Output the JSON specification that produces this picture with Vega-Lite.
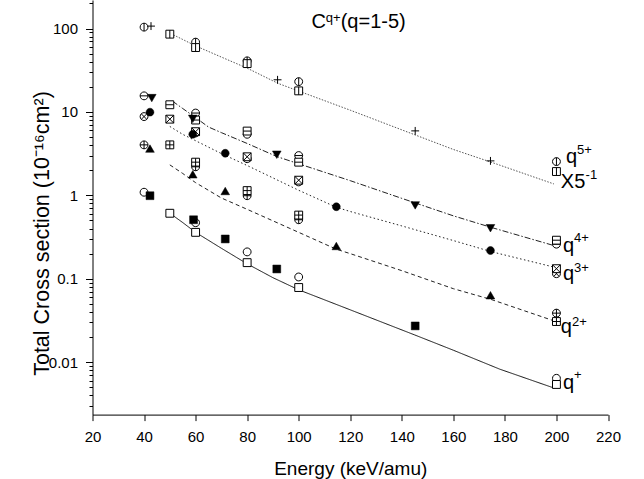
{
  "$schema": "https://vega.github.io/schema/vega-lite/v6.json",
  "width": 515.5,
  "height": 414.6,
  "autosize": {"type": "none"},
  "padding": {"left": 92.5, "top": 0, "right": 36, "bottom": 64.4},
  "background": "white",
  "config": {
    "view": {"stroke": null},
    "font": "Liberation Sans",
    "axis": {"domainColor": "black", "tickColor": "black", "labelColor": "black", "titleColor": "black", "labelFont": "Liberation Sans", "titleFont": "Liberation Sans", "titleFontWeight": "normal", "grid": false, "domainWidth": 1, "tickWidth": 1, "labelOverlap": false, "labelFlush": false}
  },
  "datasets": {
    "lines": [
      {"q": "q5", "E": 51.4, "v": 84}, {"q": "q5", "E": 55, "v": 74}, {"q": "q5", "E": 60, "v": 62}, {"q": "q5", "E": 70, "v": 45.5}, {"q": "q5", "E": 80, "v": 33.5}, {"q": "q5", "E": 92, "v": 22}, {"q": "q5", "E": 100, "v": 17.8}, {"q": "q5", "E": 120, "v": 10.5}, {"q": "q5", "E": 140, "v": 6.1}, {"q": "q5", "E": 160, "v": 3.55}, {"q": "q5", "E": 175, "v": 2.48}, {"q": "q5", "E": 199, "v": 1.37},
      {"q": "q4", "E": 51, "v": 13.5}, {"q": "q4", "E": 55, "v": 11.0}, {"q": "q4", "E": 60, "v": 8.55}, {"q": "q4", "E": 65, "v": 6.6}, {"q": "q4", "E": 70, "v": 5.65}, {"q": "q4", "E": 80, "v": 4.19}, {"q": "q4", "E": 91.5, "v": 2.92}, {"q": "q4", "E": 100, "v": 2.39}, {"q": "q4", "E": 120, "v": 1.5}, {"q": "q4", "E": 140, "v": 0.92}, {"q": "q4", "E": 160, "v": 0.568}, {"q": "q4", "E": 175, "v": 0.41}, {"q": "q4", "E": 199, "v": 0.25},
      {"q": "q3", "E": 50, "v": 6.7}, {"q": "q3", "E": 55, "v": 5.39}, {"q": "q3", "E": 60, "v": 4.52}, {"q": "q3", "E": 70, "v": 3.17}, {"q": "q3", "E": 80, "v": 2.28}, {"q": "q3", "E": 100, "v": 1.15}, {"q": "q3", "E": 114.6, "v": 0.72}, {"q": "q3", "E": 120, "v": 0.64}, {"q": "q3", "E": 140, "v": 0.43}, {"q": "q3", "E": 160, "v": 0.287}, {"q": "q3", "E": 175, "v": 0.21}, {"q": "q3", "E": 199, "v": 0.138},
      {"q": "q2", "E": 50, "v": 2.32}, {"q": "q2", "E": 55, "v": 1.83}, {"q": "q2", "E": 60, "v": 1.42}, {"q": "q2", "E": 70, "v": 0.93}, {"q": "q2", "E": 80, "v": 0.68}, {"q": "q2", "E": 100, "v": 0.36}, {"q": "q2", "E": 114.6, "v": 0.226}, {"q": "q2", "E": 120, "v": 0.2}, {"q": "q2", "E": 140, "v": 0.125}, {"q": "q2", "E": 160, "v": 0.076}, {"q": "q2", "E": 175, "v": 0.056}, {"q": "q2", "E": 199, "v": 0.0313},
      {"q": "q1", "E": 50, "v": 0.61}, {"q": "q1", "E": 55, "v": 0.472}, {"q": "q1", "E": 60, "v": 0.36}, {"q": "q1", "E": 70, "v": 0.232}, {"q": "q1", "E": 80, "v": 0.151}, {"q": "q1", "E": 90, "v": 0.103}, {"q": "q1", "E": 100, "v": 0.0737}, {"q": "q1", "E": 120, "v": 0.0424}, {"q": "q1", "E": 145, "v": 0.0212}, {"q": "q1", "E": 160, "v": 0.0139}, {"q": "q1", "E": 178, "v": 0.00824}, {"q": "q1", "E": 199, "v": 0.0049}
    ],
    "pts": [
      {"q": "q1", "m": "circle", "E": 40, "v": 1.09}, {"q": "q1", "m": "circle", "E": 60, "v": 0.47}, {"q": "q1", "m": "circle", "E": 80, "v": 0.21}, {"q": "q1", "m": "circle", "E": 100, "v": 0.105}, {"q": "q1", "m": "circle", "E": 200, "v": 0.0064},
      {"q": "q2", "m": "circlePlus", "E": 40, "v": 4.03}, {"q": "q2", "m": "circlePlus", "E": 60, "v": 2.2}, {"q": "q2", "m": "circlePlus", "E": 80, "v": 0.99}, {"q": "q2", "m": "circlePlus", "E": 100, "v": 0.51}, {"q": "q2", "m": "circlePlus", "E": 200, "v": 0.0387},
      {"q": "q3", "m": "circleX", "E": 40, "v": 8.8}, {"q": "q3", "m": "circleX", "E": 60, "v": 5.6}, {"q": "q3", "m": "circleX", "E": 80, "v": 2.75}, {"q": "q3", "m": "circleX", "E": 100, "v": 1.45}, {"q": "q3", "m": "circleX", "E": 200, "v": 0.115},
      {"q": "q4", "m": "circleMinus", "E": 40, "v": 15.6}, {"q": "q4", "m": "circleMinus", "E": 60, "v": 9.7}, {"q": "q4", "m": "circleMinus", "E": 80, "v": 5.4}, {"q": "q4", "m": "circleMinus", "E": 100, "v": 3.0}, {"q": "q4", "m": "circleMinus", "E": 200, "v": 0.26},
      {"q": "q5", "m": "circleVert", "E": 40, "v": 104}, {"q": "q5", "m": "circleVert", "E": 60, "v": 68.7}, {"q": "q5", "m": "circleVert", "E": 80, "v": 41}, {"q": "q5", "m": "circleVert", "E": 100, "v": 23.1}, {"q": "q5", "m": "circleVert", "E": 200, "v": 2.54},
      {"q": "q1", "m": "square", "E": 50, "v": 0.61}, {"q": "q1", "m": "square", "E": 60, "v": 0.36}, {"q": "q1", "m": "square", "E": 80, "v": 0.156}, {"q": "q1", "m": "square", "E": 100, "v": 0.0785}, {"q": "q1", "m": "square", "E": 200, "v": 0.0054},
      {"q": "q2", "m": "squarePlus", "E": 50, "v": 4.03}, {"q": "q2", "m": "squarePlus", "E": 60, "v": 2.5}, {"q": "q2", "m": "squarePlus", "E": 80, "v": 1.14}, {"q": "q2", "m": "squarePlus", "E": 100, "v": 0.58}, {"q": "q2", "m": "squarePlus", "E": 200, "v": 0.0307},
      {"q": "q3", "m": "squareX", "E": 50, "v": 8.2}, {"q": "q3", "m": "squareX", "E": 60, "v": 5.8}, {"q": "q3", "m": "squareX", "E": 80, "v": 2.9}, {"q": "q3", "m": "squareX", "E": 100, "v": 1.52}, {"q": "q3", "m": "squareX", "E": 200, "v": 0.132},
      {"q": "q4", "m": "squareMinus", "E": 50, "v": 12.2}, {"q": "q4", "m": "squareMinus", "E": 60, "v": 8.0}, {"q": "q4", "m": "squareMinus", "E": 80, "v": 5.9}, {"q": "q4", "m": "squareMinus", "E": 100, "v": 2.5}, {"q": "q4", "m": "squareMinus", "E": 200, "v": 0.29},
      {"q": "q5", "m": "squareVert", "E": 50, "v": 85.7}, {"q": "q5", "m": "squareVert", "E": 60, "v": 59.2}, {"q": "q5", "m": "squareVert", "E": 80, "v": 38}, {"q": "q5", "m": "squareVert", "E": 100, "v": 17.9}, {"q": "q5", "m": "squareVert", "E": 200, "v": 1.93},
      {"q": "q5", "m": "plus", "E": 42.7, "v": 107}, {"q": "q5", "m": "plus", "E": 91.8, "v": 24.3}, {"q": "q5", "m": "plus", "E": 145.2, "v": 5.93}, {"q": "q5", "m": "plus", "E": 174.4, "v": 2.59},
      {"q": "q1", "m": "fsquare", "E": 42.3, "v": 0.99}, {"q": "q1", "m": "fsquare", "E": 59.2, "v": 0.51}, {"q": "q1", "m": "fsquare", "E": 71.5, "v": 0.3}, {"q": "q1", "m": "fsquare", "E": 91.5, "v": 0.131}, {"q": "q1", "m": "fsquare", "E": 145.2, "v": 0.0272},
      {"q": "q2", "m": "ftri", "E": 42.3, "v": 3.58}, {"q": "q2", "m": "ftri", "E": 58.9, "v": 1.76}, {"q": "q2", "m": "ftri", "E": 71.5, "v": 1.11}, {"q": "q2", "m": "ftri", "E": 114.6, "v": 0.243}, {"q": "q2", "m": "ftri", "E": 174.4, "v": 0.0624},
      {"q": "q3", "m": "fcircle", "E": 42.3, "v": 9.95}, {"q": "q3", "m": "fcircle", "E": 58.9, "v": 5.4}, {"q": "q3", "m": "fcircle", "E": 71.5, "v": 3.2}, {"q": "q3", "m": "fcircle", "E": 114.6, "v": 0.73}, {"q": "q3", "m": "fcircle", "E": 174.4, "v": 0.218},
      {"q": "q4", "m": "ftridown", "E": 43, "v": 14.9}, {"q": "q4", "m": "ftridown", "E": 58.9, "v": 8.4}, {"q": "q4", "m": "ftridown", "E": 91.5, "v": 3.12}, {"q": "q4", "m": "ftridown", "E": 145.2, "v": 0.77}, {"q": "q4", "m": "ftridown", "E": 174.4, "v": 0.41}
    ],
    "labels": [
      {"k": "b", "E": 105.0, "v": 101.7, "t": "C"},
      {"k": "s", "E": 110.5, "v": 120, "t": "q+"},
      {"k": "b", "E": 116.3, "v": 101.7, "t": "(q=1-5)"},
      {"k": "b", "E": 203.7, "v": 2.45, "t": "q"},
      {"k": "s", "E": 208.0, "v": 3.1, "t": "5+"},
      {"k": "b", "E": 201.7, "v": 1.23, "t": "X5"},
      {"k": "s", "E": 211.3, "v": 1.556, "t": "-1"},
      {"k": "b", "E": 202.5, "v": 0.21, "t": "q"},
      {"k": "s", "E": 206.8, "v": 0.277, "t": "4+"},
      {"k": "b", "E": 202.5, "v": 0.097, "t": "q"},
      {"k": "s", "E": 206.8, "v": 0.119, "t": "3+"},
      {"k": "b", "E": 201.7, "v": 0.0225, "t": "q"},
      {"k": "s", "E": 206.0, "v": 0.0268, "t": "2+"},
      {"k": "b", "E": 202.5, "v": 0.00481, "t": "q"},
      {"k": "s", "E": 206.8, "v": 0.0063, "t": "+"}
    ]
  },
  "layer": [
    {
      "data": {"name": "lines"},
      "mark": {"type": "line", "strokeWidth": 1},
      "encoding": {
        "x": {"field": "E", "type": "quantitative",
          "scale": {"domain": [20, 220], "nice": false, "zero": false},
          "axis": {"title": "Energy (keV/amu)", "values": [20, 30, 40, 50, 60, 70, 80, 90, 100, 110, 120, 130, 140, 150, 160, 170, 180, 190, 200, 210, 220],
            "labelExpr": "datum.value % 20 === 0 ? datum.label : ''",
            "tickSize": {"condition": {"test": "datum.value % 20 === 0", "value": 6}, "value": 3.5},
            "labelFontSize": 15, "labelPadding": 9, "titleFontSize": 19, "titleY": 59.4, "titleBaseline": "alphabetic"}},
        "y": {"field": "v", "type": "quantitative",
          "scale": {"type": "log", "domain": [0.00235, 220], "nice": false},
          "axis": {"title": "Total Cross section (10⁻¹⁶cm²)",
            "values": [0.003, 0.004, 0.005, 0.006, 0.007, 0.008, 0.009, 0.01, 0.02, 0.03, 0.04, 0.05, 0.06, 0.07, 0.08, 0.09, 0.1, 0.2, 0.3, 0.4, 0.5, 0.6, 0.7, 0.8, 0.9, 1, 2, 3, 4, 5, 6, 7, 8, 9, 10, 20, 30, 40, 50, 60, 70, 80, 90, 100, 200],
            "labelExpr": "abs(log(datum.value)/LN10 - round(log(datum.value)/LN10)) < 0.001 ? format(datum.value, '~g') : ''",
            "tickSize": {"condition": {"test": "abs(log(datum.value)/LN10 - round(log(datum.value)/LN10)) < 0.001", "value": 7}, "value": 3.5},
            "labelFontSize": 15, "labelPadding": 8, "titleFontSize": 21.5, "titleX": -44.5, "titleY": 233, "titleAngle": 270, "titleAlign": "center", "titleBaseline": "alphabetic"}},
        "detail": {"field": "q", "type": "nominal"},
        "strokeDash": {"field": "q", "type": "nominal", "legend": null,
          "scale": {"domain": ["q1", "q2", "q3", "q4", "q5"], "range": [[1, 0], [4, 3], [1.5, 2.5], [6, 2, 1.5, 2], [1.5, 1.5]]}},
        "color": {"field": "q", "type": "nominal", "legend": null,
          "scale": {"domain": ["q1", "q2", "q3", "q4", "q5"], "range": ["#111111", "#222222", "#222222", "#222222", "#555555"]}}
      }
    },
    {
      "data": {"name": "pts"},
      "transform": [{"filter": "indexof(['fsquare','ftri','fcircle','ftridown'], datum.m) < 0"}],
      "mark": {"type": "point", "filled": true, "fill": "white", "stroke": "black", "strokeWidth": 1, "opacity": 1},
      "encoding": {
        "x": {"field": "E", "type": "quantitative"},
        "y": {"field": "v", "type": "quantitative"},
        "shape": {"field": "m", "type": "nominal", "legend": null,
          "scale": {"domain": ["circle", "circlePlus", "circleX", "circleMinus", "circleVert", "square", "squarePlus", "squareX", "squareMinus", "squareVert", "plus", "fsquare", "ftri", "fcircle", "ftridown"],
            "range": [
              "M1,0A1,1,0,1,1,-1,0A1,1,0,1,1,1,0Z",
              "M1,0A1,1,0,1,1,-1,0A1,1,0,1,1,1,0ZM-1,0L1,0M0,-1L0,1",
              "M1,0A1,1,0,1,1,-1,0A1,1,0,1,1,1,0ZM-0.7,-0.7L0.7,0.7M-0.7,0.7L0.7,-0.7",
              "M1,0A1,1,0,1,1,-1,0A1,1,0,1,1,1,0ZM-1,0L1,0",
              "M1,0A1,1,0,1,1,-1,0A1,1,0,1,1,1,0ZM0,-1L0,1",
              "M-1,-1L1,-1L1,1L-1,1Z",
              "M-1,-1L1,-1L1,1L-1,1ZM-1,0L1,0M0,-1L0,1",
              "M-1,-1L1,-1L1,1L-1,1ZM-1,-1L1,1M-1,1L1,-1",
              "M-1,-1L1,-1L1,1L-1,1ZM-1,0L1,0",
              "M-1,-1L1,-1L1,1L-1,1ZM0,-1L0,1",
              "M-1,0L1,0M0,-1L0,1",
              "M-1,-1L1,-1L1,1L-1,1Z",
              "M0,-1.1L1.1,0.8L-1.1,0.8Z",
              "M1,0A1,1,0,1,1,-1,0A1,1,0,1,1,1,0Z",
              "M0,1.1L1.1,-0.8L-1.1,-0.8Z"
            ]}},
        "size": {"field": "m", "type": "nominal", "legend": null,
          "scale": {"domain": ["circle", "circlePlus", "circleX", "circleMinus", "circleVert", "square", "squarePlus", "squareX", "squareMinus", "squareVert", "plus", "fsquare", "ftri", "fcircle", "ftridown"],
            "range": [62, 62, 62, 62, 62, 58, 58, 58, 58, 58, 100, 64, 90, 86, 90]}}
      }
    },
    {
      "data": {"name": "pts"},
      "transform": [{"filter": "indexof(['fsquare','ftri','fcircle','ftridown'], datum.m) >= 0"}],
      "mark": {"type": "point", "filled": true, "fill": "black", "stroke": "black", "strokeWidth": 0.5, "opacity": 1},
      "encoding": {
        "x": {"field": "E", "type": "quantitative"},
        "y": {"field": "v", "type": "quantitative"},
        "shape": {"field": "m", "type": "nominal", "legend": null,
          "scale": {"domain": ["circle", "circlePlus", "circleX", "circleMinus", "circleVert", "square", "squarePlus", "squareX", "squareMinus", "squareVert", "plus", "fsquare", "ftri", "fcircle", "ftridown"],
            "range": [
              "M1,0A1,1,0,1,1,-1,0A1,1,0,1,1,1,0Z",
              "M1,0A1,1,0,1,1,-1,0A1,1,0,1,1,1,0ZM-1,0L1,0M0,-1L0,1",
              "M1,0A1,1,0,1,1,-1,0A1,1,0,1,1,1,0ZM-0.7,-0.7L0.7,0.7M-0.7,0.7L0.7,-0.7",
              "M1,0A1,1,0,1,1,-1,0A1,1,0,1,1,1,0ZM-1,0L1,0",
              "M1,0A1,1,0,1,1,-1,0A1,1,0,1,1,1,0ZM0,-1L0,1",
              "M-1,-1L1,-1L1,1L-1,1Z",
              "M-1,-1L1,-1L1,1L-1,1ZM-1,0L1,0M0,-1L0,1",
              "M-1,-1L1,-1L1,1L-1,1ZM-1,-1L1,1M-1,1L1,-1",
              "M-1,-1L1,-1L1,1L-1,1ZM-1,0L1,0",
              "M-1,-1L1,-1L1,1L-1,1ZM0,-1L0,1",
              "M-1,0L1,0M0,-1L0,1",
              "M-1,-1L1,-1L1,1L-1,1Z",
              "M0,-1.1L1.1,0.8L-1.1,0.8Z",
              "M1,0A1,1,0,1,1,-1,0A1,1,0,1,1,1,0Z",
              "M0,1.1L1.1,-0.8L-1.1,-0.8Z"
            ]}},
        "size": {"field": "m", "type": "nominal", "legend": null,
          "scale": {"domain": ["circle", "circlePlus", "circleX", "circleMinus", "circleVert", "square", "squarePlus", "squareX", "squareMinus", "squareVert", "plus", "fsquare", "ftri", "fcircle", "ftridown"],
            "range": [62, 62, 62, 62, 62, 58, 58, 58, 58, 58, 100, 64, 90, 86, 90]}}
      }
    },
    {
      "data": {"name": "labels"},
      "transform": [{"filter": "datum.k === 'b'"}],
      "mark": {"type": "text", "fontSize": 20, "align": "left", "baseline": "alphabetic", "font": "Liberation Sans", "color": "black"},
      "encoding": {
        "x": {"field": "E", "type": "quantitative"},
        "y": {"field": "v", "type": "quantitative"},
        "text": {"field": "t"}
      }
    },
    {
      "data": {"name": "labels"},
      "transform": [{"filter": "datum.k === 's'"}],
      "mark": {"type": "text", "fontSize": 13, "align": "left", "baseline": "alphabetic", "font": "Liberation Sans", "color": "black"},
      "encoding": {
        "x": {"field": "E", "type": "quantitative"},
        "y": {"field": "v", "type": "quantitative"},
        "text": {"field": "t"}
      }
    }
  ]
}
